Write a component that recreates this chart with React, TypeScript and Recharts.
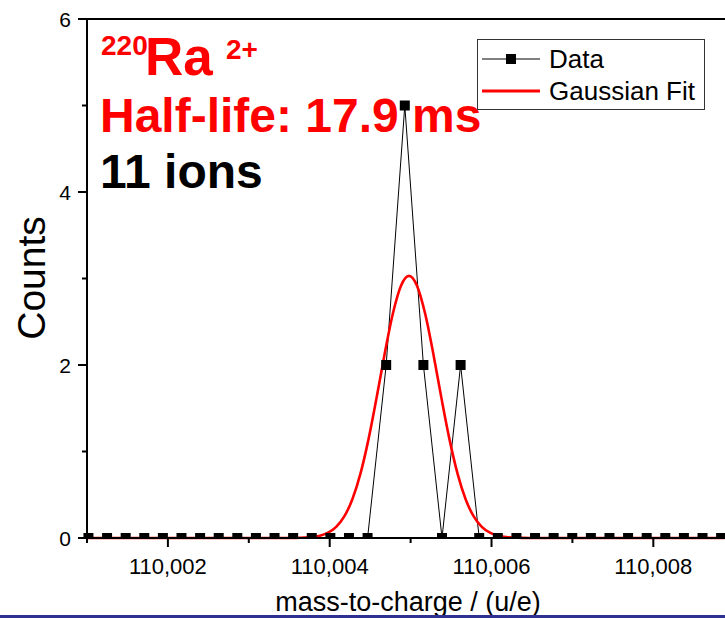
import React from 'react';
import { LineChart, Line, XAxis, YAxis, ReferenceLine, Legend } from 'recharts';

// measured data: mass bins and ion counts
const MASS = [
  110.001018, 110.001248, 110.001478, 110.001708, 110.001938, 110.002168, 110.002398,
  110.002628, 110.002858, 110.003088, 110.003318, 110.003548, 110.003778, 110.004008,
  110.004238, 110.004468, 110.004698, 110.004928, 110.005158, 110.005388, 110.005618,
  110.005848, 110.006078, 110.006308, 110.006538, 110.006768, 110.006998, 110.007228,
  110.007458, 110.007688, 110.007918, 110.008148, 110.008378, 110.008608, 110.008838,
];
const COUNTS = [
  0, 0, 0, 0, 0, 0, 0, 0, 0, 0, 0, 0, 0, 0, 0, 0, 2, 5, 2, 0, 2,
  0, 0, 0, 0, 0, 0, 0, 0, 0, 0, 0, 0, 0, 0,
];

// gaussian fit curve
const FIT_MASS = [
  110.001, 110.00338, 110.00358, 110.00378, 110.00388, 110.00398, 110.00408, 110.00418,
  110.00428, 110.00438, 110.00448, 110.00458, 110.00468, 110.00478, 110.00488, 110.00498,
  110.00508, 110.00518, 110.00528, 110.00538, 110.00548, 110.00558, 110.00568, 110.00578,
  110.00588, 110.00598, 110.00608, 110.00618, 110.00638, 110.00658, 110.00888,
];
const FIT_COUNTS = [
  0, 0, 0.002, 0.011, 0.027, 0.061, 0.128, 0.249, 0.448, 0.744, 1.143, 1.623, 2.133, 2.592,
  2.914, 3.03, 2.914, 2.592, 2.133, 1.623, 1.143, 0.744, 0.448, 0.249, 0.128, 0.061, 0.027,
  0.011, 0.002, 0, 0,
];

const X_TICKS = [110.001, 110.002, 110.003, 110.004, 110.005, 110.006, 110.007, 110.008];
const Y_TICKS = [0, 1, 2, 3, 4, 5, 6];

const dataPoints = MASS.map((m, i) => ({ mass: m, counts: COUNTS[i] }));
const fitPoints = FIT_MASS.map((m, i) => ({ mass: m, fit: FIT_COUNTS[i] }));

const FONT = '"Liberation Sans", Arial, sans-serif';
const PLOT_BOTTOM = 538;

const YTick = (props: any) => {
  const { x, y, payload } = props;
  const major = payload.value % 2 === 0;
  return (
    <g>
      <line x1={x} x2={x - (major ? 9 : 5)} y1={y} y2={y} stroke="#000" strokeWidth={2} />
      {major && (
        <text x={x - 16} y={y + 7.5} textAnchor="end" fontSize={21} fontFamily={FONT} fill="#000">
          {payload.value}
        </text>
      )}
    </g>
  );
};

const XTick = (props: any) => {
  const { x, y, payload } = props;
  const k = Math.round(payload.value * 1000);
  const major = k % 2 === 0;
  return (
    <g>
      <line x1={x} x2={x} y1={y} y2={y + (major ? 9 : 5)} stroke="#000" strokeWidth={2} />
      {major && (
        <text x={x} y={y + 36} textAnchor="middle" fontSize={22} fontFamily={FONT} fill="#000">
          {(k / 1000).toFixed(3).replace('.', ',')}
        </text>
      )}
    </g>
  );
};

// squares are clipped at the bottom frame like in the original plot
const renderSquare = (props: any) => {
  const { cx, cy, index } = props;
  if (cx == null || cy == null) return <g key={`sq-${index}`} />;
  const top = cy - 5;
  const bottom = Math.min(cy + 5, PLOT_BOTTOM);
  return <rect key={`sq-${index}`} x={cx - 5} y={top} width={10} height={bottom - top} fill="#000" />;
};

const renderLegend = (props: any) => {
  const items = props.payload ?? [];
  return (
    <svg width={228} height={71} style={{ display: 'block' }}>
      <rect x={0.5} y={0.5} width={227} height={70} fill="#fff" stroke="#333" />
      {items.map((item: any, i: number) => {
        const cy = 20 + i * 32;
        const isData = item.dataKey === 'counts';
        return (
          <g key={item.value}>
            <line x1={5} x2={63} y1={cy} y2={cy} stroke={item.color} strokeWidth={isData ? 1 : 3} />
            {isData && <rect x={29} y={cy - 5} width={10} height={10} fill="#000" />}
            <text x={72} y={cy + 9} fontSize={26} fontFamily={FONT} fill="#000">
              {item.value}
            </text>
          </g>
        );
      })}
    </svg>
  );
};

export default function App() {
  return (
    <div style={{ position: 'absolute', left: 0, top: 0, width: 725, height: 618, overflow: 'hidden', background: '#fff', fontFamily: FONT }}>
      <LineChart width={725} height={618} margin={{ top: 19, right: 0, bottom: 0, left: 0 }}>
        <XAxis
          dataKey="mass"
          type="number"
          domain={[110.001, 110.008886]}
          ticks={X_TICKS}
          tick={<XTick />}
          tickSize={0}
          tickMargin={0}
          height={80}
          axisLine={{ stroke: '#000', strokeWidth: 2 }}
          tickLine={false}
        />
        <YAxis
          type="number"
          domain={[0, 6]}
          ticks={Y_TICKS}
          tick={<YTick />}
          tickSize={0}
          tickMargin={0}
          width={87}
          axisLine={{ stroke: '#000', strokeWidth: 2 }}
          tickLine={false}
        />
        <ReferenceLine y={6} stroke="#000" strokeWidth={2} />

        <text x={101} y={55} fontSize={28} fontWeight="bold" fontFamily={FONT} fill="#ff0000">220</text>
        <text x={145} y={75} fontSize={53} fontWeight="bold" fontFamily={FONT} fill="#ff0000">Ra</text>
        <text x={226} y={59} fontSize={28} fontWeight="bold" fontFamily={FONT} fill="#ff0000">2+</text>
        <text x={100} y={132} fontSize={48} fontWeight="bold" fontFamily={FONT} fill="#ff0000">Half-life: 17.9 ms</text>
        <text x={100} y={188} fontSize={48} fontWeight="bold" fontFamily={FONT} fill="#000">11 ions</text>
        <text transform="translate(45,278) rotate(-90)" textAnchor="middle" fontSize={39} fontFamily={FONT} fill="#000">Counts</text>
        <text x={408} y={611} textAnchor="middle" fontSize={27} fontFamily={FONT} fill="#000">mass-to-charge / (u/e)</text>

        <Legend
          layout="vertical"
          verticalAlign="middle"
          align="center"
          wrapperStyle={{ left: 477, top: 39, width: 228, height: 71 }}
          content={renderLegend}
        />
        <Line
          data={dataPoints}
          dataKey="counts"
          name="Data"
          type="linear"
          stroke="#000"
          strokeWidth={1}
          dot={renderSquare}
          activeDot={false}
          isAnimationActive={false}
        />
        <Line
          data={fitPoints}
          dataKey="fit"
          name="Gaussian Fit"
          type="monotone"
          stroke="#ff0000"
          strokeWidth={2.6}
          dot={false}
          activeDot={false}
          isAnimationActive={false}
        />
      </LineChart>
      <div style={{ position: 'absolute', left: 0, top: 615, width: 725, height: 3, background: '#2e3192' }} />
    </div>
  );
}
